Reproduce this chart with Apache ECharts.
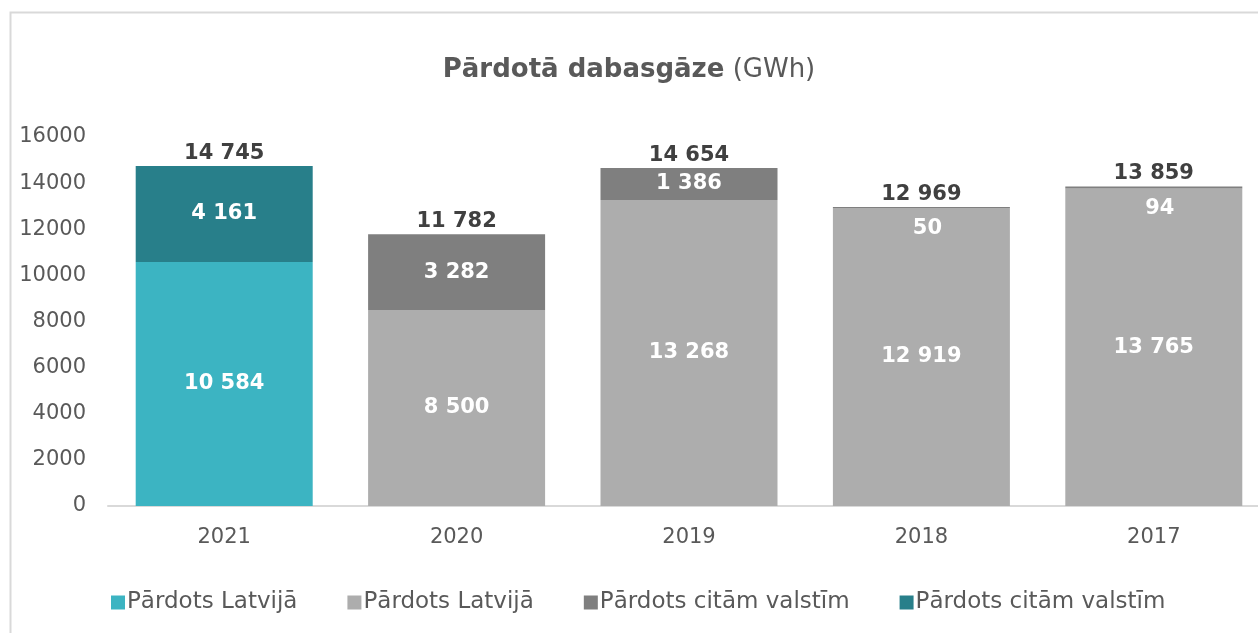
<!DOCTYPE html>
<html>
<head>
<meta charset="utf-8">
<script src="https://cdn.jsdelivr.net/npm/echarts@6/dist/echarts.min.js"></script>
<style>
html, body { margin: 0; padding: 0; background: #fff; }
#chart { width: 1258px; height: 633px; }
</style>
</head>
<body>
<div id="chart"></div>
<script>
// gadi un vērtības (GWh)
const years = ['2021', '2020', '2019', '2018', '2017'];
const latviaNew = [10584, null, null, null, null];
const latviaOld = [null, 8500, 13268, 12919, 13765];
const abroadOld = [null, 3282, 1386, 50, 94];
const abroadNew = [4161, null, null, null, null];
const totals = [14745, 11782, 14654, 12969, 13859];
const yTicks = [0, 2000, 4000, 6000, 8000, 10000, 12000, 14000, 16000];

const font = 'DejaVu Sans';

function fmt(v) {
    return String(v).replace(/\B(?=(\d{3})+(?!\d))/g, ' ');
}

function innerLabel() {
    return {
        show: true,
        position: 'inside',
        color: '#fff',
        fontFamily: font,
        fontWeight: 'bold',
        fontSize: 21,
        formatter: p => fmt(p.value)
    };
}

// mazās vērtības (50, 94) novietotas zem joslas augšas
function smallData(arr) {
    return arr.map(v => {
        if (v !== null && v < 500) {
            return { value: v, label: { position: 'bottom', distance: 10, offset: [6, 0] } };
        }
        return v;
    });
}

let myChart = echarts.init(document.getElementById('chart'));
let option = {
    animation: false,
    title: {
        text: '{b|Pārdotā dabasgāze}{n| (GWh)}',
        left: 'center',
        top: 52,
        textStyle: {
            rich: {
                b: { fontFamily: font, fontWeight: 'bold', fontSize: 26, color: '#595959' },
                n: { fontFamily: font, fontWeight: 'normal', fontSize: 26, color: '#595959' }
            }
        }
    },
    graphic: [{
        type: 'rect',
        shape: { x: 10.5, y: 12.5, width: 1300, height: 700 },
        style: { fill: 'none', stroke: '#d9d9d9', lineWidth: 2 },
        silent: true
    }],
    legend: {
        top: 591,
        left: 111,
        padding: 0,
        itemWidth: 14,
        itemHeight: 14,
        itemGap: 50,
        icon: 'rect',
        textStyle: { fontFamily: font, fontSize: 23, color: '#595959', padding: [0, 0, 0, -3] },
        data: ['Pārdots Latvijā', 'Pārdots Latvijā\u200B', 'Pārdots citām valstīm', 'Pārdots citām valstīm\u200B']
    },
    grid: {
        left: 108,
        width: 1162,
        top: 137,
        bottom: 127,
        containLabel: false,
        outerBoundsMode: 'none'
    },
    xAxis: {
        type: 'category',
        data: years,
        axisLine: { lineStyle: { color: '#d9d9d9', width: 2 } },
        axisTick: { show: false },
        axisLabel: { fontFamily: font, fontSize: 21, color: '#595959', margin: 21 }
    },
    yAxis: {
        type: 'value',
        min: yTicks[0],
        max: yTicks[yTicks.length - 1],
        interval: 2000,
        splitLine: { show: false },
        axisLine: { show: false },
        axisTick: { show: false },
        axisLabel: {
            fontFamily: font, fontSize: 21, color: '#595959', margin: 22,
            formatter: v => String(v)
        }
    },
    series: [
        {
            name: 'Pārdots Latvijā',
            type: 'bar',
            stack: 'kopā',
            barWidth: 177,
            itemStyle: { color: '#3CB4C2' },
            label: innerLabel(),
            data: latviaNew
        },
        {
            name: 'Pārdots Latvijā\u200B',
            type: 'bar',
            stack: 'kopā',
            barWidth: 177,
            itemStyle: { color: '#ADADAD' },
            label: innerLabel(),
            data: latviaOld
        },
        {
            name: 'Pārdots citām valstīm',
            type: 'bar',
            stack: 'kopā',
            barWidth: 177,
            itemStyle: { color: '#7F7F7F' },
            label: innerLabel(),
            data: smallData(abroadOld)
        },
        {
            name: 'Pārdots citām valstīm\u200B',
            type: 'bar',
            stack: 'kopā',
            barWidth: 177,
            itemStyle: { color: '#287F8A' },
            label: innerLabel(),
            data: abroadNew
        },
        {
            // kopsummas virs joslām
            name: 'kopā',
            type: 'bar',
            stack: 'kopā',
            barWidth: 177,
            itemStyle: { color: 'transparent' },
            label: {
                show: true,
                position: 'top',
                distance: 2,
                color: '#404040',
                fontFamily: font,
                fontWeight: 'bold',
                fontSize: 21,
                formatter: p => fmt(totals[p.dataIndex])
            },
            data: totals.map(() => 0)
        }
    ]
};
myChart.setOption(option);
</script>
</body>
</html>
